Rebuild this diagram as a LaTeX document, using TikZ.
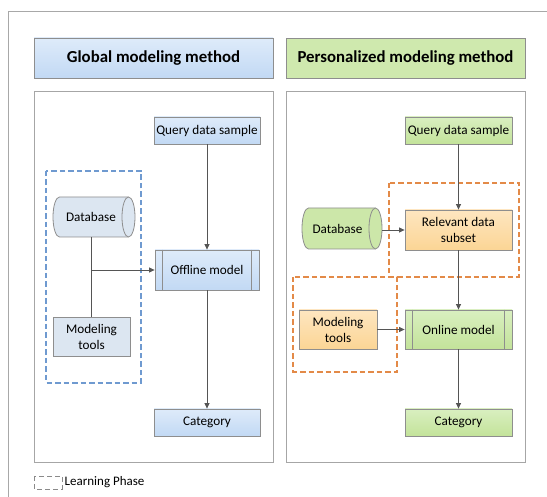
\documentclass[tikz,border=0pt]{standalone}
\usepackage{fontspec}
\setmainfont{Carlito}
\usetikzlibrary{arrows.meta}
\definecolor{boxborder}{HTML}{8E8E8E}
\definecolor{panelborder}{HTML}{A6A6A6}
\definecolor{framecol}{HTML}{A8A8A8}
\definecolor{bluetop}{HTML}{DEEBFA}
\definecolor{bluebot}{HTML}{C2D9F4}
\definecolor{greentop}{HTML}{D9EFC0}
\definecolor{greenbot}{HTML}{C3E39A}
\definecolor{orangetop}{HTML}{FEE6C0}
\definecolor{orangebot}{HTML}{FBD595}
\definecolor{grayblue}{HTML}{DCE6F1}
\definecolor{dashblue}{HTML}{6F9AD0}
\definecolor{dashorange}{HTML}{E38A48}
\definecolor{linecol}{HTML}{555555}
\definecolor{legendgray}{HTML}{8A8A8A}
\newcommand\mydb[8]{% name, x1, y1, x2, y2, fill, text, text shift
  \fill[#6] (#2+6.5,#3) -- (#4-6.5,#3)
    arc[start angle=-90,end angle=90,x radius=6.5,y radius={(#5-#3)/2}]
    -- (#2+6.5,#5)
    arc[start angle=90,end angle=270,x radius=6.5,y radius={(#5-#3)/2}] -- cycle;
  \draw[boxborder,line width=0.8pt] (#2+6.5,#3) -- (#4-6.5,#3)
    arc[start angle=-90,end angle=90,x radius=6.5,y radius={(#5-#3)/2}]
    -- (#2+6.5,#5)
    arc[start angle=90,end angle=270,x radius=6.5,y radius={(#5-#3)/2}] -- cycle;
  \draw[boxborder,line width=0.8pt] (#4-6.5,#3)
    arc[start angle=-90,end angle=-270,x radius=6.5,y radius={(#5-#3)/2}];
  \node[inner sep=0pt,minimum width={#4-#2},minimum height={#5-#3},font=\fontsize{13.2}{16}\selectfont] (#1) at ({(#2+#4)/2},{(#3+#5)/2}) {\hspace*{#8}#7};
}
\begin{document}
\begin{tikzpicture}[x=1pt,y=-1pt,
  base/.style={draw=boxborder,line width=0.8pt,inner sep=0pt,align=center,font=\fontsize{13.2}{16}\selectfont},
  bluebox/.style={base,top color=bluetop,bottom color=bluebot},
  greenbox/.style={base,top color=greentop,bottom color=greenbot},
  orangebox/.style={base,top color=orangetop,bottom color=orangebot},
  graybox/.style={base,fill=grayblue},
  titlebox/.style={draw=boxborder,line width=0.8pt,inner sep=0pt,minimum width=239pt,minimum height=40pt,font=\fontsize{16.8}{18}\selectfont\bfseries},
  panel/.style={draw=panelborder,line width=0.8pt},
  conn/.style={draw=linecol,line width=0.8pt},
  arr/.style={conn,-{Triangle[length=5.5pt,width=5pt]}},
  learnblue/.style={draw=dashblue,line width=1.1pt,dash pattern=on 5.5pt off 3pt},
  learnorange/.style={draw=dashorange,line width=1.1pt,dash pattern=on 5.5pt off 3pt}
]
\useasboundingbox (0,0) rectangle (547,497);
\fill[white] (0,0) rectangle (547,497);
% outer frame
\draw[framecol,line width=0.8pt] (8,497) -- (8,11) -- (547,11);

% titles
\node[titlebox,top color=bluetop,bottom color=bluebot] (titleL) at (153.5,58) {Global modeling method};
\node[titlebox,fill=greenbot!80!white] (titleR) at (405.5,58) {Personalized modeling method};

% panels
\draw[panel] (34,91) rectangle (273,462);
\draw[panel] (286,91) rectangle (525,462);

% ---------- left panel ----------
\draw[learnblue] (46,171) rectangle (141,383);
\node[bluebox,minimum width=106pt,minimum height=27pt] (qL) at (207,130.5) {Query data sample};
\node[bluebox,minimum width=104pt,minimum height=40pt] (offL) at (207,270) {Offline model};
\draw[boxborder,line width=0.8pt] ([xshift=8pt]offL.north west) -- ([xshift=8pt]offL.south west);
\draw[boxborder,line width=0.8pt] ([xshift=-8pt]offL.north east) -- ([xshift=-8pt]offL.south east);
\node[bluebox,minimum width=106pt,minimum height=27pt] (catL) at (207,422.5) {Category};
\mydb{dbL}{53}{197}{135}{237}{grayblue}{Database}{-6pt}
\node[graybox,minimum width=77pt,minimum height=39pt] (mtL) at (91.5,336.5) {Modeling\\tools};

\draw[arr] (qL) -- (offL);
\draw[arr] (offL) -- (catL);
\draw[conn] (mtL.north) -- (mtL.north |- dbL.south);
\draw[arr] (mtL.north |- offL.west) -- (offL.west);

% ---------- right panel ----------
\draw[learnorange] (389,183) rectangle (519,277);
\draw[learnorange] (293,277) rectangle (397,372);
\node[greenbox,minimum width=107pt,minimum height=27pt] (qR) at (458.5,130.5) {Query data sample};
\node[orangebox,minimum width=107pt,minimum height=40pt] (relR) at (458.5,230) {Relevant data\\subset};
\mydb{dbR}{302}{208}{382}{249}{greenbot!85!white}{Database}{-9pt}
\node[orangebox,minimum width=78pt,minimum height=39pt] (mtR) at (338,329.5) {Modeling\\tools};
\node[greenbox,minimum width=107pt,minimum height=39pt] (onR) at (458.5,329.5) {Online model};
\draw[boxborder,line width=0.8pt] ([xshift=8pt]onR.north west) -- ([xshift=8pt]onR.south west);
\draw[boxborder,line width=0.8pt] ([xshift=-8pt]onR.north east) -- ([xshift=-8pt]onR.south east);
\node[greenbox,minimum width=107pt,minimum height=27pt] (catR) at (458.5,422.5) {Category};

\draw[arr] (qR) -- (relR);
\draw[arr] (dbR.east |- relR.west) -- (relR.west);
\draw[arr] (relR) -- (onR);
\draw[arr] (mtR) -- (onR);
\draw[arr] (onR) -- (catR);

% legend
\draw[legendgray,line width=0.9pt,dash pattern=on 5pt off 3pt] (34,476) rectangle (62,489);
\node[anchor=west,inner sep=0pt,font=\fontsize{13}{15}\selectfont] (legend) at (64.5,482.5) {Learning Phase};
\end{tikzpicture}
\end{document}
